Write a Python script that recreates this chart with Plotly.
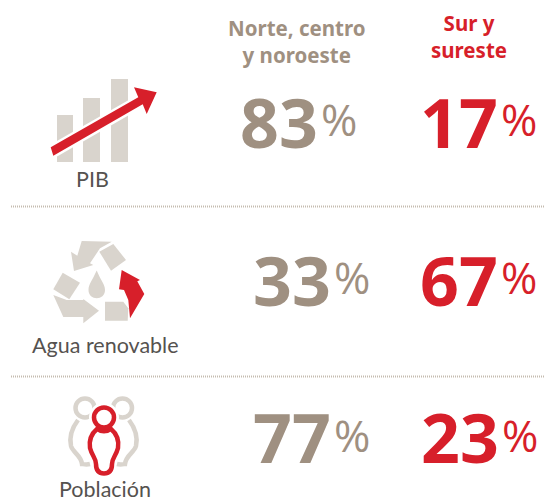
import plotly.graph_objects as go

categories = ["PIB", "Agua renovable", "Población"]
norte_values = [83, 33, 77]
sur_values = [17, 67, 23]
header_norte = "Norte, centro<br>y noroeste"
header_sur = "Sur y<br>sureste"

GRAY = "#9f9081"
RED = "#d71f2a"
ICON = "#d9d4cd"
LABEL = "#55524f"
FONT = "Lato"
NUM_FONT = "Open Sans"

row_y = [121, 279, 436]
pct_y = [119, 277, 435]
label_y = [179, 345, 489]
label_x = [92, 105, 105]
norte_edge = [319, 332, 332]
sur_edge = [499, 499, 500]


def poly(pts, ox, oy, fill, line="rgba(0,0,0,0)", lw=0):
    d = "M" + " L".join(f"{ox + x / 3:.1f},{oy + y / 3:.1f}" for x, y in pts) + " Z"
    return dict(type="path", path=d, fillcolor=fill, line=dict(color=line, width=lw), xref="x", yref="y")


def curve(d, fill=None, color=ICON, lw=4.5):
    s = dict(type="path", path=d, line=dict(color=color, width=lw), xref="x", yref="y")
    s["fillcolor"] = fill if fill else "rgba(0,0,0,0)"
    return s


def circle(cx, cy, r, color, lw=4.5, fill="rgba(0,0,0,0)"):
    return dict(type="circle", x0=cx - r, x1=cx + r, y0=cy - r, y1=cy + r,
                line=dict(color=color, width=lw), fillcolor=fill, xref="x", yref="y")


def rect(x0, y0, x1, y1, fill):
    return dict(type="rect", x0=x0, x1=x1, y0=y0, y1=y1, fillcolor=fill, line=dict(width=0), xref="x", yref="y")


shapes = []
# PIB icon
shapes += [rect(57, 115, 73, 162, ICON), rect(83, 98, 100, 162, ICON), rect(111, 79, 128, 162, ICON)]
arrow = [(152, 262), (415, 112), (402, 82), (470, 97), (440, 162), (428, 133), (160, 287)]
shapes.append(poly(arrow, 0, 60, "white", "white", 5))
shapes.append(poly(arrow, 0, 60, RED))
# Recycle icon
oy = 220
shapes.append(poly([(245, 63), (335, 65), (300, 85), (270, 130), (280, 135), (222, 153), (213, 95), (232, 107)], 0, oy, ICON))
shapes.append(poly([(298, 95), (340, 72), (378, 120), (333, 152)], 0, oy, ICON))
shapes.append(poly([(188, 158), (240, 188), (208, 238), (160, 208)], 0, oy, ICON))
shapes.append(poly([(160, 225), (200, 240), (250, 240), (250, 237), (297, 272), (250, 310), (250, 291), (190, 291)], 0, oy, ICON))
shapes.append(poly([(315, 245), (370, 245), (385, 265), (383, 302), (315, 302)], 0, oy, ICON))
shapes.append(poly([(365, 150), (420, 180), (412, 184), (433, 222), (390, 295), (385, 240), (372, 210), (357, 208)], 0, oy, RED))
shapes.append(dict(type="path", xref="x", yref="y", fillcolor=ICON, line=dict(width=0),
                   path="M96.7,270.5 C92,281 88.5,284 88.5,290 C88.5,301 105,301 105,290 C105,284 101,281 96.7,270.5 Z"))
# Population icon
shapes += [circle(85, 408, 9.5, ICON), circle(122.5, 408, 9.5, ICON)]
shapes.append(curve("M78,420 C72,428 69,437 71,446 C73,453 81,455 82,464 C83,464 86,465 90,464"))
shapes.append(curve("M129,420 C135,428 138,437 136,446 C134,453 126,455 125,464 C124,464 121,465 117,464"))
shapes.append(circle(104, 417.5, 14, "white", 2, "white"))
shapes.append(curve("M97,429 C91,434 89,441 90,448 C92,456 96,458 96,464 C96,472 100,473.5 104,473.5 "
                    "C108,473.5 112,472 112,464 C112,458 116,456 118,448 C119,441 117,434 111,429 "
                    "C107,432 101,432 97,429 Z", fill="white", color=RED))
shapes.append(circle(104, 417.5, 10, RED, 4.5, "white"))

fig = go.Figure()
# Dotted separators
for y in (206.5, 376.5):
    fig.add_trace(go.Scatter(x=[11, 544], y=[y, y], mode="lines", hoverinfo="skip",
                             line=dict(color="#c5bcb0", width=2, dash="1px 1px")))

annotations = []


def note(x, y, text, size, color, font=FONT, anchor="center"):
    annotations.append(dict(x=x, y=y, xref="x", yref="y", text=text, showarrow=False, xanchor=anchor, yanchor="middle",
                            borderpad=0, font=dict(family=font, size=size, color=color)))


note(297, 41, f"<b>{header_norte}</b>", 20.5, GRAY, "Noto Sans")
note(469, 36, f"<b>{header_sur}</b>", 20.5, RED, "Noto Sans")
for i, cat in enumerate(categories):
    note(label_x[i], label_y[i], cat, 21.5, LABEL)
    note(norte_edge[i], row_y[i], f"<b>{norte_values[i]}</b>", 68, GRAY, NUM_FONT, "right")
    note(norte_edge[i] + 1, pct_y[i], "%", 44, GRAY, NUM_FONT, "left")
    note(sur_edge[i], row_y[i], f"<b>{sur_values[i]}</b>", 68, RED, NUM_FONT, "right")
    note(sur_edge[i] + 1, pct_y[i], "%", 44, RED, NUM_FONT, "left")

fig.update_layout(
    width=544, height=502, margin=dict(l=0, r=0, t=0, b=0), showlegend=False,
    paper_bgcolor="white", plot_bgcolor="white",
    xaxis=dict(range=[0, 544], visible=False, fixedrange=True),
    yaxis=dict(range=[502, 0], visible=False, fixedrange=True),
    shapes=shapes, annotations=annotations,
)
fig.write_html("out.html", config=dict(displayModeBar=False),
               post_script="document.body.style.margin='0';document.documentElement.style.overflow='hidden';")
